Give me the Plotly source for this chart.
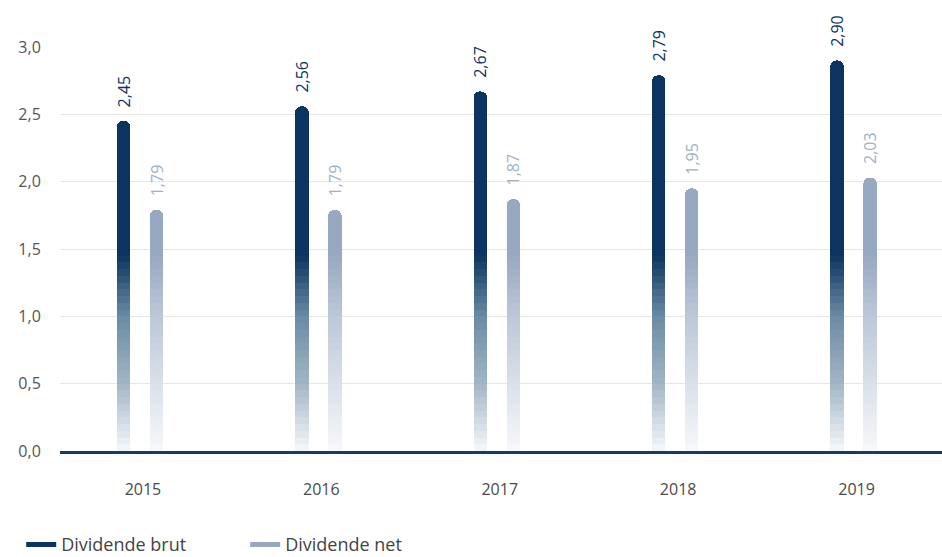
import plotly.graph_objects as go

years = ["2015", "2016", "2017", "2018", "2019"]
brut = [2.45, 2.56, 2.67, 2.79, 2.90]
net = [1.79, 1.79, 1.87, 1.95, 2.03]
brut_labels = ["2,45", "2,56", "2,67", "2,79", "2,90"]
net_labels = ["1,79", "1,79", "1,87", "1,95", "2,03"]

# gradient colour stops (value -> rgb), bottom of bar fades to near white
BRUT_STOPS = [(0.0, (246, 248, 250)), (0.5, (162, 182, 197)), (1.0, (106, 139, 164)), (1.45, (11, 53, 96))]
NET_STOPS = [(0.0, (247, 248, 250)), (0.5, (217, 224, 233)), (1.0, (188, 200, 216)), (1.45, (151, 168, 193))]
FADE_TOP = 1.45
N_SEG = 29
FONT = "Open Sans"

idx = list(range(len(years)))
x_brut = [i - 0.109 for i in idx]
x_net = [i + 0.076 for i in idx]
BW = 0.076


def color_at(stops, v):
    for (v0, c0), (v1, c1) in zip(stops[:-1], stops[1:]):
        if v <= v1:
            t = (v - v0) / (v1 - v0)
            r, g, b = (round(a + t * (b_ - a)) for a, b_ in zip(c0, c1))
            return f"rgb({r},{g},{b})"
    r, g, b = stops[-1][1]
    return f"rgb({r},{g},{b})"


fig = go.Figure()


def add_series(xs, vals, labels, stops, textcolor):
    step = FADE_TOP / N_SEG
    for k in range(N_SEG):
        lo = k * step
        seg = [max(0.0, min(step, v - lo)) for v in vals]
        fig.add_trace(go.Bar(
            x=xs, y=seg, width=BW,
            marker=dict(color=color_at(stops, lo + step / 2), line=dict(width=0)),
            showlegend=False, hoverinfo="skip"))
    top = [max(0.0, v - FADE_TOP) for v in vals]
    fig.add_trace(go.Bar(
        x=xs, y=top, width=BW,
        marker=dict(color=color_at(stops, FADE_TOP), line=dict(width=0)),
        text=["\u2002\u2009" + t for t in labels], textposition="outside", textangle=-90,
        constraintext="none", cliponaxis=False,
        textfont=dict(family=FONT, size=16, color=textcolor),
        showlegend=False, hoverinfo="skip"))


add_series(x_brut, brut, brut_labels, BRUT_STOPS, "rgb(11,53,96)")
add_series(x_net, net, net_labels, NET_STOPS, "rgb(160,176,199)")

fig.add_trace(go.Scatter(x=[None], y=[None], mode="lines", name="Dividende brut",
                         line=dict(color="rgb(11,53,96)", width=5)))
fig.add_trace(go.Scatter(x=[None], y=[None], mode="lines", name="Dividende net",
                         line=dict(color="rgb(151,168,193)", width=5)))

fig.update_layout(
    width=942, height=557,
    margin=dict(l=60, r=0, t=47, b=106),
    barmode="stack",
    barcornerradius=7,
    separators=", ",
    plot_bgcolor="white", paper_bgcolor="white",
    font=dict(family=FONT, size=16, color="#555555"),
    xaxis=dict(
        range=[-0.465, 4.479], tickvals=idx, ticktext=years,
        showgrid=False, zeroline=False,
        showline=True, linecolor="rgb(20,60,100)", linewidth=2.5,
        ticks="outside", ticklen=22, tickcolor="rgba(0,0,0,0)",
        tickfont=dict(family=FONT, size=16, color="#4a4a4a"),
    ),
    yaxis=dict(
        range=[0, 3.0], tickvals=[0, 0.5, 1.0, 1.5, 2.0, 2.5, 3.0],
        tickformat=".1f",
        showgrid=True, gridcolor="#e6e6e6", gridwidth=1, zeroline=False,
        ticks="outside", ticklen=15, tickcolor="rgba(0,0,0,0)",
        tickfont=dict(family=FONT, size=16, color="#555555"),
    ),
    legend=dict(
        orientation="h", xref="container", yref="container",
        x=0.0225, y=0.022, xanchor="left", yanchor="middle",
        traceorder="normal",
        font=dict(family=FONT, size=18, color="#444444"),
        entrywidth=179, entrywidthmode="pixels",
        itemwidth=30, bgcolor="rgba(0,0,0,0)",
    ),
)

fig.write_html("out.html")
